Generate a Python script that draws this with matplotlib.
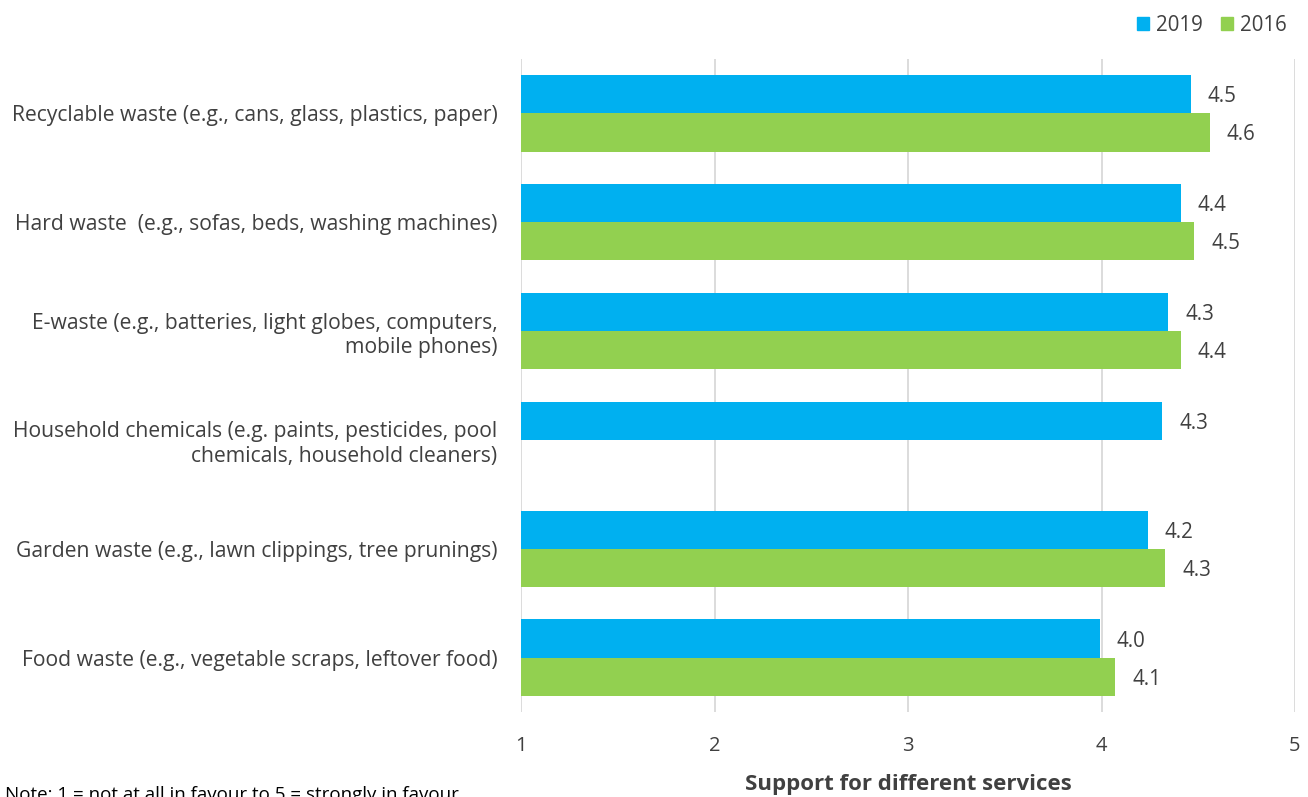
import numpy as np
import matplotlib
matplotlib.use("Agg")
import matplotlib.pyplot as plt
from matplotlib.patches import Patch

plt.rcParams['font.family'] = ['Open Sans', 'DejaVu Sans']

categories = [
    "Recyclable waste (e.g., cans, glass, plastics, paper)",
    "Hard waste  (e.g., sofas, beds, washing machines)",
    "E-waste (e.g., batteries, light globes, computers,\nmobile phones)",
    "Household chemicals (e.g. paints, pesticides, pool\nchemicals, household cleaners)",
    "Garden waste (e.g., lawn clippings, tree prunings)",
    "Food waste (e.g., vegetable scraps, leftover food)",
]
values_2019 = [4.46, 4.41, 4.345, 4.315, 4.24, 3.99]
values_2016 = [4.56, 4.48, 4.41, np.nan, 4.33, 4.07]
xticks = [1, 2, 3, 4, 5]

BLUE = "#00B0F0"
GREEN = "#92D050"
TEXT = "#404040"
GRID = "#D9D9D9"

W, H = 1308, 797
fig = plt.figure(figsize=(W / 100, H / 100), dpi=100)
ax = fig.add_axes([521 / W, 1 - 712 / H, (1295 - 521) / W, (712 - 59) / H])

n = len(categories)
y = np.arange(n)
h = 0.35
ax.barh(y - h / 2, np.array(values_2019) - 1, left=1, height=h, color=BLUE, label="2019")
ax.barh(y + h / 2, np.array(values_2016) - 1, left=1, height=h, color=GREEN, label="2016")

fs = 15.2
vfs = 14.8
for yi, v in zip(y, values_2019):
    if not np.isnan(v):
        ax.text(v + 0.088, yi - h / 2, f"{v:.1f}", va="center_baseline", ha="left",
                fontsize=vfs, color=TEXT)
for yi, v in zip(y, values_2016):
    if not np.isnan(v):
        ax.text(v + 0.088, yi + h / 2, f"{v:.1f}", va="center_baseline", ha="left",
                fontsize=vfs, color=TEXT)

ax.set_xlim(1, 5)
ax.set_ylim(n - 0.5, -0.5)
ax.set_xticks(xticks)
ax.set_xticklabels([str(t) for t in xticks], fontsize=14.5, color=TEXT)
ax.set_yticks(y)
ax.set_yticklabels(categories, fontsize=fs, color=TEXT, ha="right")
ax.tick_params(axis="both", length=0)
ax.tick_params(axis="x", pad=17)
ax.tick_params(axis="y", pad=17)
ax.grid(axis="x", color=GRID, linewidth=1.3)
ax.set_axisbelow(True)
for s in ax.spines.values():
    s.set_visible(False)

# axis title placed directly in figure pixels under the tick labels
fig.text((521 + 1295) / 2 / W, 1 - 790 / H, "Support for different services",
         fontsize=16, fontweight="bold", color=TEXT, ha="center", va="baseline")

handles = [Patch(color=BLUE, label="2019"), Patch(color=GREEN, label="2016")]
fig.legend(handles=handles, loc="upper right", bbox_to_anchor=(0.998, 1.005), ncol=2,
           frameon=False, fontsize=vfs, handlelength=0.6, handleheight=0.6,
           handletextpad=0.35, columnspacing=0.85, labelcolor=TEXT)

fig.text(5 / W, 1 - 800 / H, "Note: 1 = not at all in favour to 5 = strongly in favour",
         fontsize=13.5, color="black", va="baseline", ha="left")

fig.savefig("out.png", dpi=100, facecolor="white")
